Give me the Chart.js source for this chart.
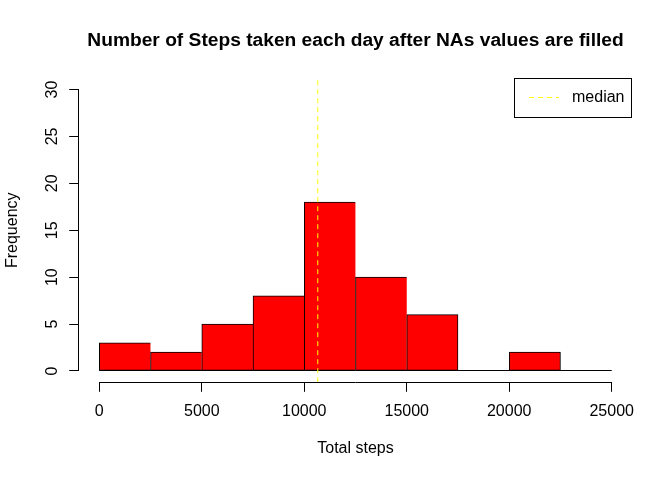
<!DOCTYPE html>
<html>
<head>
<meta charset="utf-8">
<script src="https://cdn.jsdelivr.net/npm/chart.js@4.4.1/dist/chart.umd.min.js"></script>
<style>
html,body{margin:0;padding:0;background:#ffffff;}
#wrap{width:672px;height:480px;}
canvas{display:block;}
</style>
</head>
<body>
<div id="wrap"><canvas id="c" width="672" height="480"></canvas></div>
<script>
// ---- data ----
const breaks = [0, 2500, 5000, 7500, 10000, 12500, 15000, 17500, 20000, 22500, 25000];
const frequencies = [3, 2, 5, 8, 18, 10, 6, 0, 2, 0];
const xTickValues = [0, 5000, 10000, 15000, 20000, 25000];
const yTickValues = [0, 5, 10, 15, 20, 25, 30];
const medianSteps = 10660;
const xLimits = [-1000, 26000];
const yLimits = [-1.2, 31.2];
const titleText = "Number of Steps taken each day after NAs values are filled";
const xTitle = "Total steps";
const yTitle = "Frequency";
const legendLabel = "median";

const FONT = "'Liberation Sans', Arial, Helvetica, sans-serif";
Chart.defaults.font.family = FONT;
Chart.defaults.font.size = 16;
Chart.defaults.color = '#000000';

const binCentres = frequencies.map((f, i) => (breaks[i] + breaks[i + 1]) / 2);
const histPoints = frequencies.map((f, i) => ({ x: binCentres[i], y: f }));
const medianPoints = [{ x: medianSteps, y: yLimits[0] }, { x: medianSteps, y: yLimits[1] }];

const al = p => Math.round(p - 0.5) + 0.5;

const rStyle = {
  id: 'rStyle',
  beforeDatasetsDraw(chart) {
    const { ctx, scales: { x, y } } = chart;
    ctx.save();
    ctx.strokeStyle = '#000';
    ctx.lineWidth = 1;
    const yb = al(y.getPixelForValue(0));
    ctx.beginPath();
    ctx.moveTo(x.getPixelForValue(breaks[0]), yb);
    ctx.lineTo(x.getPixelForValue(breaks[breaks.length - 1]), yb);
    ctx.stroke();
    ctx.restore();
  },
  afterDraw(chart) {
    const { ctx, chartArea, scales: { x, y } } = chart;
    ctx.save();
    ctx.strokeStyle = '#000';
    ctx.lineWidth = 1;
    // y axis line (only across tick range)
    const ax = al(chartArea.left);
    ctx.beginPath();
    ctx.moveTo(ax, al(y.getPixelForValue(yTickValues[0])) + 0.5);
    ctx.lineTo(ax, al(y.getPixelForValue(yTickValues[yTickValues.length - 1])) - 0.5);
    ctx.stroke();
    // x axis line
    const ay = al(chartArea.bottom);
    ctx.beginPath();
    ctx.moveTo(al(x.getPixelForValue(xTickValues[0])) - 0.5, ay);
    ctx.lineTo(al(x.getPixelForValue(xTickValues[xTickValues.length - 1])) + 0.5, ay);
    ctx.stroke();
    // legend box (top right of plot region)
    const right = Math.floor(chartArea.right - 1) + 0.5;
    const top = Math.floor(chartArea.top) + 0.5;
    const left = right - 117;
    const bottom = top + 39;
    ctx.strokeRect(left, top, right - left, bottom - top);
    const ds = chart.data.datasets[0];
    ctx.strokeStyle = ds.borderColor;
    ctx.setLineDash(ds.borderDash);
    ctx.beginPath();
    ctx.moveTo(left + 14.5, top + 19);
    ctx.lineTo(left + 44.5, top + 19);
    ctx.stroke();
    ctx.setLineDash([]);
    ctx.fillStyle = '#000';
    ctx.font = '16px ' + FONT;
    ctx.textAlign = 'left';
    ctx.textBaseline = 'middle';
    ctx.fillText(ds.label, left + 57.5, top + 19.5);
    ctx.restore();
  }
};

new Chart(document.getElementById('c'), {
  type: 'bar',
  data: {
    datasets: [
      {
        type: 'line',
        label: legendLabel,
        data: medianPoints,
        borderColor: '#FFFF00',
        borderWidth: 1,
        borderDash: [5, 4],
        pointRadius: 0,
        fill: false,
        order: 0
      },
      {
        type: 'bar',
        label: 'Frequency',
        data: histPoints,
        backgroundColor: '#FF0000',
        borderColor: '#000000',
        borderWidth: ctx => {
          const i = ctx.dataIndex;
          const next = frequencies[i + 1];
          return { top: 1, left: 1, bottom: 1, right: (next === undefined || next === 0) ? 1 : 0 };
        },
        borderSkipped: false,
        barPercentage: 1,
        categoryPercentage: 1,
        order: 1
      }
    ]
  },
  options: {
    responsive: false,
    devicePixelRatio: 1,
    animation: false,
    layout: { padding: { left: 0, right: 39.8, top: 0, bottom: 0 } },
    plugins: {
      legend: { display: false },
      tooltip: { enabled: false },
      title: {
        display: true,
        text: titleText,
        fullSize: false,
        color: '#000',
        font: { size: 19.2, weight: 'bold', family: FONT, lineHeight: 1.2 },
        padding: { top: 28.8, bottom: 26.46 }
      }
    },
    scales: {
      x: {
        type: 'linear',
        min: xLimits[0],
        max: xLimits[1],
        offset: false,
        afterBuildTicks: s => { s.ticks = xTickValues.map(v => ({ value: v })); },
        afterFit: s => { s.height = 97.8; },
        ticks: {
          padding: 10.3,
          autoSkip: false,
          maxRotation: 0,
          minRotation: 0,
          color: '#000',
          font: { size: 16, family: FONT },
          callback: v => String(v)
        },
        grid: { display: true, offset: false, drawOnChartArea: false, drawTicks: true, tickLength: 9.6, color: '#000', lineWidth: 1 },
        border: { display: false },
        title: { display: true, text: xTitle, color: '#000', font: { size: 16, family: FONT }, padding: { top: 0, bottom: 21.4 } }
      },
      y: {
        type: 'linear',
        min: yLimits[0],
        max: yLimits[1],
        afterBuildTicks: s => { s.ticks = yTickValues.map(v => ({ value: v })); },
        afterFit: s => { s.width = 78.8; },
        ticks: {
          padding: 8,
          autoSkip: false,
          minRotation: 90,
          maxRotation: 90,
          crossAlign: 'center',
          color: '#000',
          font: { size: 16, family: FONT },
          callback: v => String(v)
        },
        grid: { display: true, offset: false, drawOnChartArea: false, drawTicks: true, tickLength: 9.6, color: '#000', lineWidth: 1 },
        border: { display: false },
        title: { display: true, text: yTitle, color: '#000', font: { size: 16, family: FONT }, padding: { top: 2.8, bottom: 0 } }
      }
    }
  },
  plugins: [rStyle]
});
</script>
</body>
</html>
